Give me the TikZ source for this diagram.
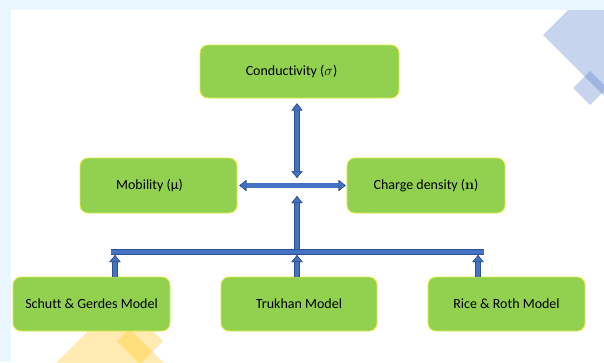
\documentclass[tikz,border=0pt]{standalone}
\usepackage[no-math]{fontspec}
\setmainfont{Carlito}[Ligatures=NoCommon]
\usetikzlibrary{arrows.meta}
\definecolor{bgblue}{HTML}{EAF6FD}
\definecolor{boxgreen}{HTML}{92D050}
\definecolor{boxedge}{HTML}{E2EC3A}
\definecolor{afill}{HTML}{4472C4}
\definecolor{adraw}{HTML}{2F528F}
\definecolor{decoblue}{HTML}{4472C4}
\definecolor{decoyellow}{HTML}{FFC000}
\tikzset{
  tipA/.tip={Triangle[width=11pt,length=7pt,line width=0.6pt,fill=afill,color=adraw]},
  box/.style={draw=boxedge, line width=0.8pt, fill=boxgreen, rounded corners=8pt,
    font=\fontsize{14}{17}\selectfont, text=black, inner sep=0pt},
  barrow/.style={line width=4.4pt, draw=afill, preaction={draw=adraw, line width=5.6pt}},
  barline/.style={line width=4pt, draw=afill, preaction={draw=adraw, line width=5.2pt}},
}
\begin{document}
\begin{tikzpicture}[x=1pt,y=-1pt]
\useasboundingbox (0,0) rectangle (604,362);
\fill[bgblue] (0,0) rectangle (604,362);
\fill[white] (11,10) rectangle (604,362);
\begin{scope}
\clip (11,10) rectangle (604,362);
\fill[decoblue, opacity=0.3] (543,35) -- (613,-35) -- (683,35) -- (613,105) -- cycle;
\fill[decoblue, opacity=0.3] (573,88) -- (590,71) -- (607,88) -- (590,105) -- cycle;
\fill[decoyellow, opacity=0.3] (110,309) -- (170,369) -- (110,429) -- (50,369) -- cycle;
\fill[decoyellow, opacity=0.3] (117,341) -- (140,318) -- (163,341) -- (140,364) -- cycle;
\end{scope}

\node[box, minimum width=199pt, minimum height=53pt] (cond) at (299.5,71.5) {Conductivity ($\sigma$)\hspace*{16pt}};
\node[box, minimum width=157pt, minimum height=55pt] (mob) at (158.5,185.5) {Mobility (µ)\hspace*{18pt}};
\node[box, minimum width=158pt, minimum height=55pt] (charge) at (426,185.5) {Charge density ($\mathbf{n}$)};
\node[box, minimum width=157pt, minimum height=54pt] (schutt) at (91.5,304) {Schutt \& Gerdes Model};
\node[box, minimum width=156pt, minimum height=54pt] (trukhan) at (299,304) {Trukhan Model};
\node[box, minimum width=157pt, minimum height=54pt] (rice) at (506.5,304) {Rice \& Roth Model};

\coordinate (j) at (297,186);
\coordinate (bl) at (111,252);
\coordinate (br) at (484,252);
\coordinate (a1) at (115,255);
\coordinate (a2) at (297,255);
\coordinate (a3) at (478,255);

\draw[barrow, {tipA}-{tipA}, shorten <=5pt, shorten >=8pt] (cond.south -| j) -- (j);
\draw[barrow, {tipA}-{tipA}, shorten <=2pt, shorten >=1pt] (mob.east) -- (charge.west);
\draw[barrow, -{tipA}, shorten >=10pt] (bl -| j) -- (j);
\draw[barrow, -{tipA}] (schutt.north -| a1) -- (a1);
\draw[barrow, -{tipA}] (trukhan.north -| a2) -- (a2);
\draw[barrow, -{tipA}] (rice.north -| a3) -- (a3);
\draw[barline] (bl) -- (br);
\end{tikzpicture}
\end{document}
